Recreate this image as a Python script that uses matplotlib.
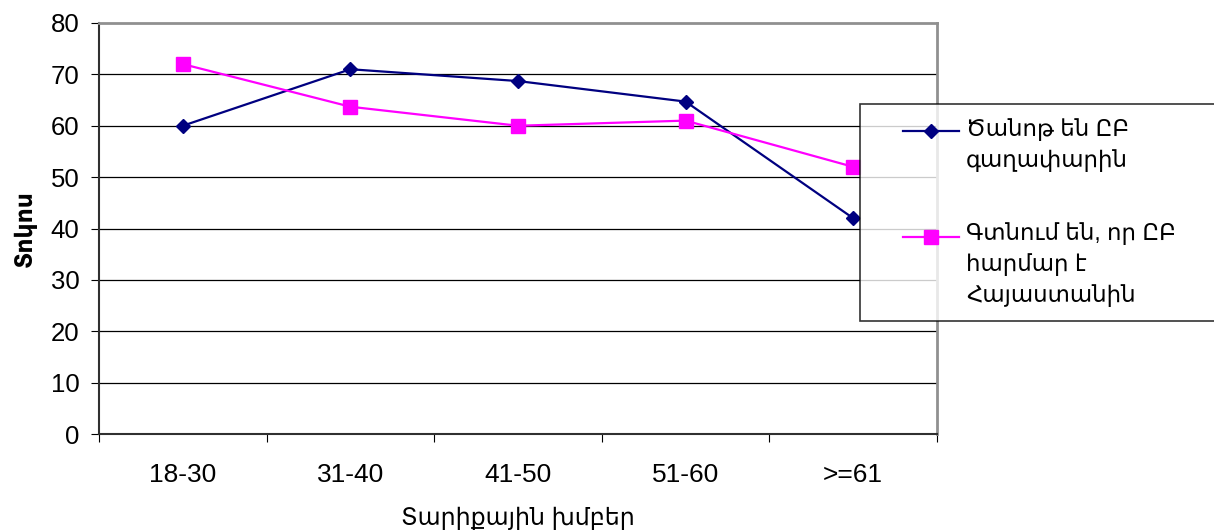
import matplotlib
matplotlib.use("Agg")
import matplotlib.pyplot as plt
from matplotlib.offsetbox import DrawingArea, HPacker, TextArea

plt.rcParams["font.family"] = ["Liberation Sans", "DejaVu Sans"]

groups = ["18-30", "31-40", "41-50", "51-60", ">=61"]
familiar = [60, 71, 68.7, 64.7, 42]
suitable = [72, 63.7, 60, 61, 52]

label_familiar = "Ծանոթ են ԸԲ\nգաղափարին"
label_suitable = "Գտնում են, որ ԸԲ\nհարմար է\nՀայաստանին"

LEG_FS = 16.5
LINE_STEP = 20.9  # points between wrapped legend lines

fig = plt.figure(figsize=(12.14, 5.31), dpi=100)
ax = fig.add_axes([99 / 1214, 1 - 434 / 531, 838 / 1214, 411 / 531])

x = list(range(len(groups)))
ax.plot(x, familiar, color="#000080", lw=1.6, marker="D", ms=7.5,
        label=label_familiar)
ax.plot(x, suitable, color="#FF00FF", lw=1.6, marker="s", ms=10.5,
        label=label_suitable)

ax.set_xlim(-0.5, len(groups) - 0.5)
ax.set_ylim(0, 80)
ax.set_yticks(range(0, 81, 10))
for y in range(10, 80, 10):
    ax.axhline(y, color="black", lw=0.9, zorder=0)

ax.set_xticks([i - 0.5 for i in range(len(groups) + 1)])
ax.set_xticklabels([])
ax.set_xticks(x, minor=True)
ax.set_xticklabels(groups, minor=True)
ax.tick_params(axis="x", which="minor", length=0, pad=21, labelsize=19)
ax.tick_params(axis="x", which="major", length=6, direction="out")
ax.tick_params(axis="y", length=6, direction="out", labelsize=18.5, pad=8)

for side in ("top", "right"):
    ax.spines[side].set_color("#909090")
    ax.spines[side].set_linewidth(2)
ax.spines["left"].set_color("#303030")
ax.spines["bottom"].set_color("#303030")
ax.spines["left"].set_linewidth(1.5)
ax.spines["bottom"].set_linewidth(1.5)

ax.set_ylabel("Տոկոս", fontsize=17, fontweight="bold", labelpad=10)
ax.set_xlabel("Տարիքային խմբեր", fontsize=17, labelpad=14)

leg = fig.legend(loc="upper left", mode="expand",
                 bbox_to_anchor=(860 / 1214, 1 - 104 / 531, 0.3, 0.0),
                 fontsize=LEG_FS, frameon=True, fancybox=False,
                 borderpad=0.6, labelspacing=2.2, handlelength=3.6,
                 handletextpad=0.43, borderaxespad=0)
leg.get_frame().set_edgecolor("black")
leg.get_frame().set_linewidth(1.2)
for t in leg.get_texts():
    t.set_linespacing(1.45)

# put the handle next to the first text line, as in the original
for box in leg.findobj(HPacker):
    kids = box.get_children()
    if len(kids) == 2 and isinstance(kids[0], DrawingArea) and isinstance(kids[1], TextArea):
        nlines = kids[1].get_text().count("\n") + 1
        dy = (nlines - 1) / 2 * LINE_STEP
        for art in kids[0].get_children():
            n = len(art.get_xdata())
            if n == 1:
                art.set_xdata([41.3])
            else:
                art.set_xdata([21.2 + i * (61.5 - 21.2) / (n - 1) for i in range(n)])
            art.set_ydata([v + dy for v in art.get_ydata()])

fig.savefig("out.png", dpi=100)
